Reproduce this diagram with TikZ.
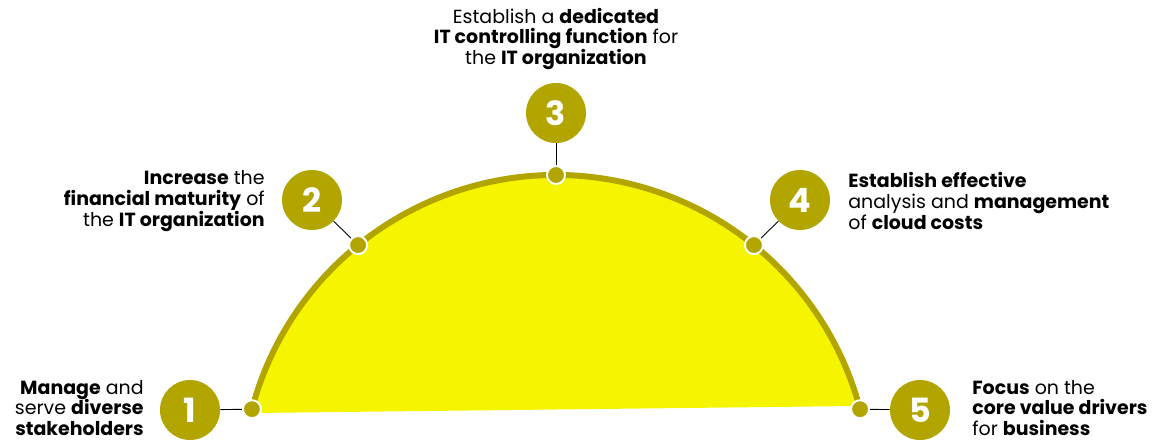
\documentclass[tikz,border=0pt]{standalone}
\usepackage{fontspec}
\setmainfont{Poppins}
\usepackage{tikz}
\usetikzlibrary{positioning, calc}
\definecolor{olivedrab}{RGB}{178, 165, 0}
\definecolor{brightyellow}{RGB}{245, 245, 0}

\begin{document}
\begin{tikzpicture}[x=0.02cm, y=0.02cm,
    numdot/.style={circle, fill=olivedrab, draw=white, line width=1.1pt, minimum size=0.36cm, inner sep=0pt},
    numball/.style={circle, fill=olivedrab, minimum size=1.2cm, inner sep=0pt, text=white, font=\fontsize{19}{19}\selectfont\bfseries},
    goaltext/.style={font=\fontsize{10.8}{11.9}\selectfont, inner sep=0pt},
    link/.style={black, line width=0.5pt}]
  \useasboundingbox (0, 0) rectangle (1159, 441);
  \coordinate (O) at (556, -48.5);

  % halbkreis
  \fill[brightyellow] (253, 28) -- ($(O)+(165.2:314.5)$) arc[start angle=165.2, end angle=14.8, radius=314.5] -- (856, 35) -- cycle;
  \draw[olivedrab, line width=3.4pt] ($(O)+(165.2:314.5)$) arc[start angle=165.2, end angle=14.8, radius=314.5];

  % punkte auf dem bogen
  \node[numdot] (d1) at ($(O)+(165.2:314.5)$) {};
  \node[numdot] (d2) at ($(O)+(129:314.5)$) {};
  \node[numdot] (d3) at ($(O)+(90:314.5)$) {};
  \node[numdot] (d4) at ($(O)+(51:314.5)$) {};
  \node[numdot] (d5) at ($(O)+(14.8:314.5)$) {};

  % nummern
  \node[numball] (n1) at (190, 31) {1};
  \node[numball] (n2) at (312, 241) {2};
  \node[numball] (n3) at (556, 328) {3};
  \node[numball] (n4) at (800, 241) {4};
  \node[numball] (n5) at (920, 31) {5};

  \draw[link] (n1) -- (d1);
  \draw[link] (n2) -- (d2);
  \draw[link] (n3) -- (d3);
  \draw[link] (n4) -- (d4);
  \draw[link] (n5) -- (d5);

  % texte
  \node[goaltext, anchor=east, align=right] (t1) at (144, 33) {\textbf{Manage} and\\serve \textbf{diverse}\\\textbf{stakeholders}};
  \node[goaltext, anchor=east, align=right] (t2) at (265, 240) {\textbf{Increase} the\\\textbf{financial maturity} of\\the \textbf{IT organization}};
  \node[goaltext, align=center] (t3) at (556, 402) {Establish a \textbf{dedicated}\\\textbf{IT controlling function} for\\the \textbf{IT organization}};
  \node[goaltext, anchor=west, align=left] (t4) at (848, 240) {\textbf{Establish effective}\\analysis and \textbf{management}\\of \textbf{cloud costs}};
  \node[goaltext, anchor=west, align=left] (t5) at (972, 33) {\textbf{Focus} on the\\\textbf{core value drivers}\\for \textbf{business}};
\end{tikzpicture}
\end{document}
